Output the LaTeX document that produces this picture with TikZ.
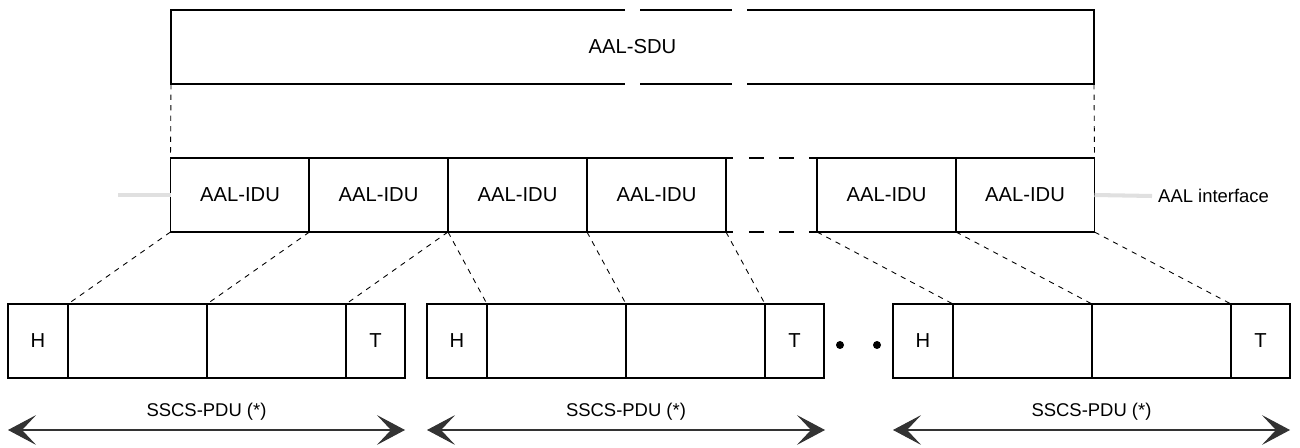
\documentclass[tikz,border=0pt]{standalone}
\usepackage{fontspec}
\setmainfont{Liberation Sans}
\usepackage{tikz}
\usetikzlibrary{arrows.meta, positioning, calc}
\definecolor{ifgray}{HTML}{E0E0E0}
\tikzset{
  idubox/.style={rectangle, draw=black, line width=0.7pt, minimum width=2.78cm, minimum height=1.48cm,
                 inner sep=0pt, outer sep=0pt, font=\fontsize{11.5}{13}\selectfont},
  pdubox/.style={idubox},
  hbox/.style  ={idubox, minimum width=1.2cm},
  tbox/.style  ={idubox, minimum width=1.18cm},
  guide/.style ={dashed, line width=0.5pt},
  iface/.style ={draw=ifgray, line width=2.3pt},
  span/.style  ={{Stealth[length=16pt,width=17pt,inset=8pt]}-{Stealth[length=16pt,width=17pt,inset=8pt]},
                 draw=black!80, line width=0.6pt},
  dotmark/.style={circle, fill=black, inner sep=0pt, minimum size=0.16cm},
  lbl/.style   ={font=\fontsize{10.5}{12}\selectfont},
}

\begin{document}
\begin{tikzpicture}[x=0.02cm, y=-0.02cm]
  \useasboundingbox (0,0) rectangle (1300,448);
  % service data unit, broken edges
  \node[lbl, font=\fontsize{11.5}{13}\selectfont] (sdu) at (632.5,47) {AAL-SDU};
  \draw[line width=0.7pt] (625,10) -- (171,10) -- (171,84) -- (625,84);
  \draw[line width=0.7pt] (640,10) -- (732,10);
  \draw[line width=0.7pt] (640,84) -- (732,84);
  \draw[line width=0.7pt] (747,10) -- (1094,10) -- (1094,84) -- (747,84);
  \coordinate (sdusw) at (171,84);
  \coordinate (sduse) at (1094,84);
  % interface data units
  \node[idubox] (idu1) at (240,195)    {AAL-IDU};
  \node[idubox] (idu2) at (378.5,195)  {AAL-IDU};
  \node[idubox] (idu3) at (517.5,195)  {AAL-IDU};
  \node[idubox] (idu4) at (656.5,195)  {AAL-IDU};
  \node[idubox] (idu5) at (886.5,195)  {AAL-IDU};
  \node[idubox] (idu6) at (1025,195)   {AAL-IDU};
  \draw[line width=0.7pt, dash pattern=on 0.14cm off 0.32cm on 0.3cm off 0.3cm on 0.3cm off 0.3cm on 0.16cm]
    (idu4.north east) -- (idu5.north west);
  \draw[line width=0.7pt, dash pattern=on 0.14cm off 0.32cm on 0.3cm off 0.3cm on 0.3cm off 0.3cm on 0.16cm]
    (idu4.south east) -- (idu5.south west);
  \draw[guide] (sdusw) -- (idu1.north west);
  \draw[guide] (sduse) -- (idu6.north east);
  % AAL interface
  \coordinate (ifl) at (118,195);
  \node[lbl, anchor=west] (iflbl) at (1152,196) {AAL interface};
  \draw[iface] (ifl) -- (idu1.west);
  \draw[iface] (idu6.east) -- (iflbl.west);
  % SSCS-PDUs
  \node[hbox]   (h1)  at (38,341)     {H};
  \node[pdubox] (m1a) at (137.5,341)  {};
  \node[pdubox] (m1b) at (276.5,341)  {};
  \node[tbox]   (t1)  at (375.5,341)  {T};
  \node[hbox]   (h2)  at (457,341)    {H};
  \node[pdubox] (m2a) at (556.5,341)  {};
  \node[pdubox] (m2b) at (695.5,341)  {};
  \node[tbox]   (t2)  at (794.5,341)  {T};
  \node[hbox]   (h3)  at (923,341)    {H};
  \node[pdubox] (m3a) at (1022.5,341) {};
  \node[pdubox] (m3b) at (1161.5,341) {};
  \node[tbox]   (t3)  at (1260.5,341) {T};
  \node[dotmark] (dt1) at (840,345) {};
  \node[dotmark] (dt2) at (877,345) {};
  % mapping lines
  \draw[guide] (idu1.south west) -- (h1.north east);
  \draw[guide] (idu1.south east) -- (m1a.north east);
  \draw[guide] (idu2.south east) -- (m1b.north east);
  \draw[guide] (idu3.south west) -- (h2.north east);
  \draw[guide] (idu3.south east) -- (m2a.north east);
  \draw[guide] (idu4.south east) -- (m2b.north east);
  \draw[guide] (idu5.south west) -- (h3.north east);
  \draw[guide] (idu5.south east) -- (m3a.north east);
  \draw[guide] (idu6.south east) -- (m3b.north east);
  % extents
  \coordinate (s1l) at (8,430);   \coordinate (s1r) at (405,430);
  \coordinate (s2l) at (427,430); \coordinate (s2r) at (825,430);
  \coordinate (s3l) at (893,430); \coordinate (s3r) at (1290,430);
  \draw[span] (s1l) -- node[lbl, above=2pt] {SSCS-PDU (*)} (s1r);
  \draw[span] (s2l) -- node[lbl, above=2pt] {SSCS-PDU (*)} (s2r);
  \draw[span] (s3l) -- node[lbl, above=2pt] {SSCS-PDU (*)} (s3r);
\end{tikzpicture}
\end{document}
